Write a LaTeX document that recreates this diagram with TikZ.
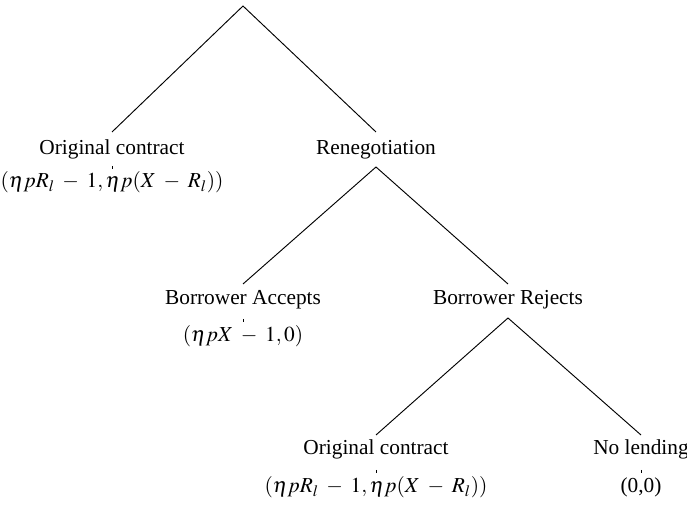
\documentclass[tikz,border=0pt]{standalone}
\usepackage{mathptmx}
\usepackage{fontspec}
\setmainfont{Liberation Serif}
\newcommand{\paymath}[1]{$\medmuskip=6.5mu plus 2mu minus 2mu #1$}
\begin{document}
\begin{tikzpicture}[x=0.75pt,y=-0.75pt,
  lbl/.style={anchor=base,inner sep=0pt,font=\fontsize{16}{19}\selectfont},
  edge/.style={line width=0.7pt,black},
  tick/.style={line width=0.5pt,black}]
\useasboundingbox (0,0) rectangle (687,506);
% root
\coordinate (root) at (243,6);
% level 1
\coordinate (oc1top) at (112,132);
\coordinate (rntop) at (376,132);
\node[lbl] (oc1) at (112,155) {Original contract};
\node[lbl] (rn) at (376,155) {Renegotiation};
\coordinate (oc1t1) at (112,166);
\coordinate (oc1t2) at (112,169);
\coordinate (rnbot) at (376,167);
\node[lbl] (oc1pay) at (112,188) {\paymath{(\eta p R_l - 1, \eta p(X - R_l))}};
% level 2
\coordinate (batop) at (243,284);
\coordinate (brtop) at (508,284);
\node[lbl] (ba) at (243,305) {Borrower Accepts};
\node[lbl] (br) at (508,305) {Borrower Rejects};
\coordinate (bat1) at (243,319);
\coordinate (bat2) at (243,322);
\coordinate (brbot) at (508,318);
\node[lbl] (bapay) at (243,342) {\paymath{(\eta p X - 1, 0)}};
% level 3
\coordinate (oc2top) at (376,435);
\coordinate (nltop) at (641,435);
\node[lbl] (oc2) at (376,455) {Original contract};
\node[lbl] (nl) at (641,455) {No lending};
\coordinate (oc2t1) at (376,470);
\coordinate (oc2t2) at (376,473);
\coordinate (nlt1) at (641,470);
\coordinate (nlt2) at (641,473);
\node[lbl] (oc2pay) at (376,493) {\paymath{(\eta p R_l - 1, \eta p(X - R_l))}};
\node[lbl] (nlpay) at (641,493) {(0,0)};
% edges
\draw[edge] (oc1top) -- (root) -- (rntop);
\draw[edge] (batop) -- (rnbot) -- (brtop);
\draw[edge] (oc2top) -- (brbot) -- (nltop);
% ticks
\draw[tick] (oc1t1) -- (oc1t2);
\draw[tick] (bat1) -- (bat2);
\draw[tick] (oc2t1) -- (oc2t2);
\draw[tick] (nlt1) -- (nlt2);
\end{tikzpicture}
\end{document}
